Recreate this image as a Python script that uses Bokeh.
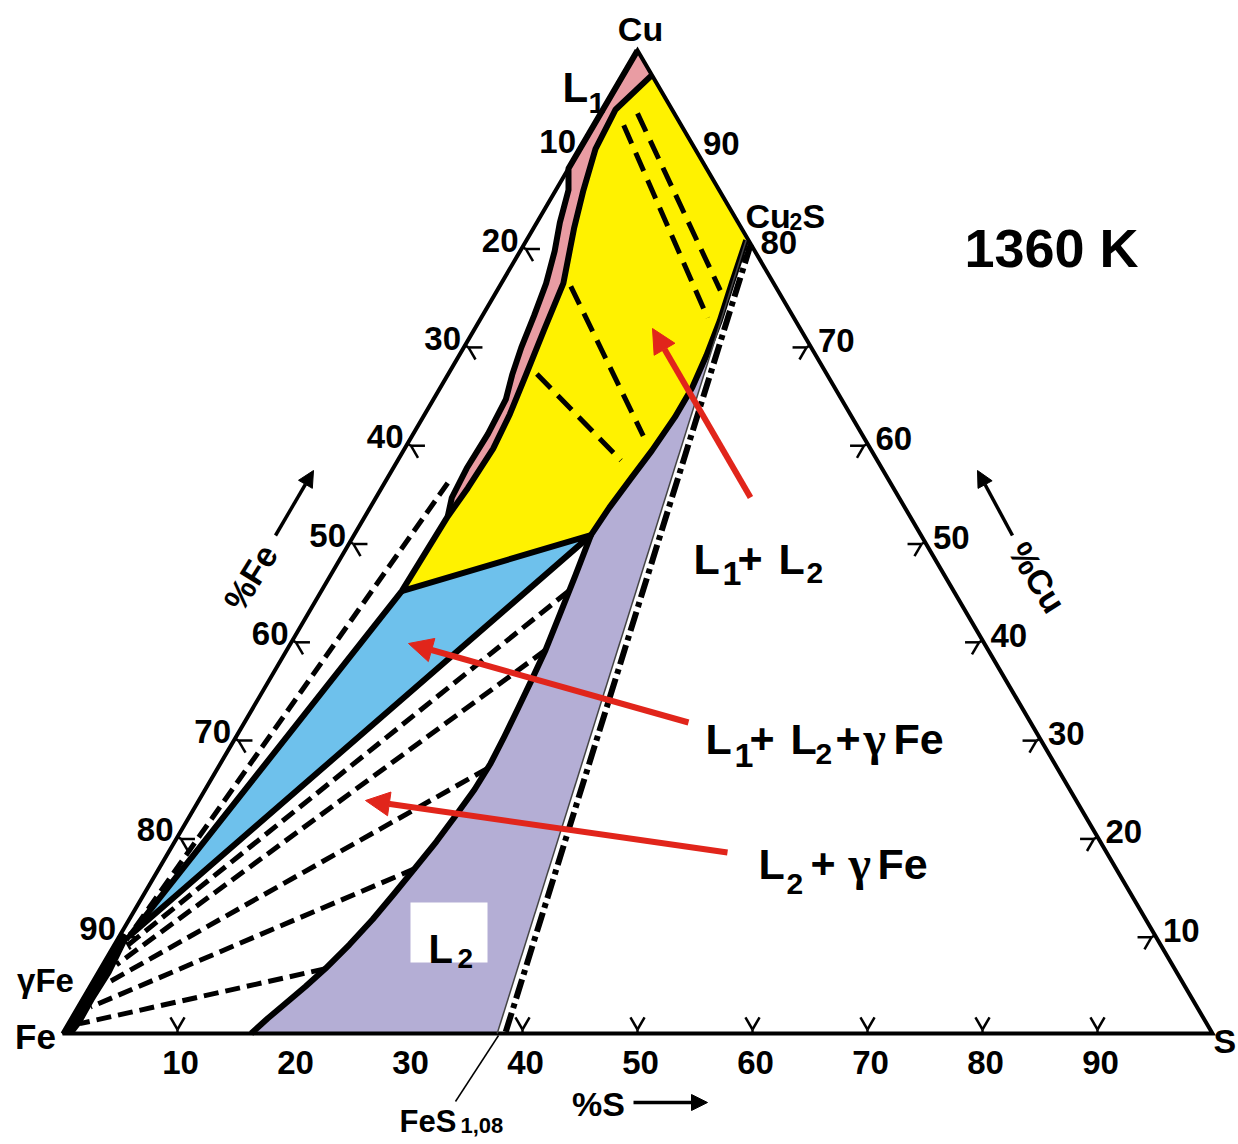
import numpy as np
from bokeh.plotting import figure
from bokeh.models import Range1d, Arrow, NormalHead
from bokeh.core.properties import value
from bokeh.embed import file_html
from bokeh.resources import INLINE

# ---------------- data: compositions in wt.% (S, Cu); Fe = 100 - S - Cu ----------------
ticks = [10, 20, 30, 40, 50, 60, 70, 80, 90]
tick_labels = ["10", "20", "30", "40", "50", "60", "70", "80", "90"]

cu2s = [19.1, 80.7]
l1_top = [2.5, 97.5]
l1_corner = [7.0, 45.0]
l2_corner = [20.6, 50.7]
gfe_corner = [0.9, 10.0]
blue_tip = [1.3, 10.5]
fes_bottom_S = 37.8
pseudo_S = [19.7, 38.5]
pseudo_Cu = [80.3, 0.0]

pink_left_S = [0.0, 0.0, 1.1, 2.0, 3.0, 3.9, 4.5, 5.0, 5.6, 6.3, 6.5, 6.4, 6.6, 7.2]
pink_left_Cu = [100.0, 88.0, 85.8, 82.5, 79.6, 76.3, 73.0, 69.8, 67.0, 64.5, 61.0, 57.5, 54.5, 52.6]
pink_right_S = [2.5, 1.1, 1.35, 2.4, 3.5, 4.3, 5.4, 6.1, 6.8, 7.4, 7.7, 7.5, 7.2]
pink_right_Cu = [97.5, 94.0, 90.0, 85.8, 82.0, 79.6, 76.3, 71.5, 67.0, 63.0, 59.5, 55.5, 52.6]

l2_upper_S = [19.1, 20.0, 20.9, 21.5, 21.9, 21.9, 21.6, 21.2, 20.8, 20.6]
l2_upper_Cu = [80.7, 76.5, 72.5, 69.0, 65.7, 62.7, 59.3, 56.5, 53.5, 50.7]
l2_lower_S = [20.6, 21.3, 21.9, 22.5, 22.8, 23.07, 23.32, 23.49, 23.42, 23.12, 22.75,
              22.26, 21.71, 21.16, 20.43, 19.56, 18.74, 17.86, 17.07, 16.4]
l2_lower_Cu = [50.7, 46.6, 42.8, 39.0, 36.1, 33.16, 30.21, 27.47, 24.82, 22.28, 19.53,
               16.89, 14.14, 11.6, 9.05, 6.61, 4.78, 3.05, 1.53, 0.0]

gfe_S = [0.0, 0.9, 1.05, 1.0, 1.1, 0.8, 0.0]
gfe_Cu = [0.0, 0.0, 1.0, 3.4, 6.1, 9.8, 10.2]

# tie lines (start S, start Cu, end S, end Cu)
tie_l1l2_S1 = [2.6, 3.2, 6.2, 7.7]
tie_l1l2_Cu1 = [92.4, 93.6, 76.0, 67.1]
tie_l1l2_S2 = [19.7, 19.4, 20.1, 19.4]
tie_l1l2_Cu2 = [72.8, 75.6, 60.8, 58.3]

tie_l2g_S1 = [21.5, 22.5, 23.5, 22.3, 19.6]
tie_l2g_Cu1 = [45.0, 39.0, 27.0, 16.8, 6.6]
tie_l2g_S2 = [1.2, 1.2, 1.2, 1.1, 1.0]
tie_l2g_Cu2 = [9.0, 7.0, 5.0, 2.7, 1.0]

tie_l1g_S = [5.5, 0.8]
tie_l1g_Cu = [56.0, 9.5]

# ---------------- styling ----------------
PINK = "#e99ca3"
YELLOW = "#fff200"
BLUE = "#6ec1ec"
PURPLE = "#b4aed5"
RED = "#e1251b"
FONT = "Liberation Sans"

SIDE, HGT = 1150.0, 983.0


def tern(S, Cu):
    S = np.asarray(S, float)
    Cu = np.asarray(Cu, float)
    return (SIDE * (S + Cu / 2.0) / 100.0).tolist(), (HGT * Cu / 100.0).tolist()


p = figure(width=1236, height=1142, x_range=Range1d(-62, 1174), y_range=Range1d(-109, 1033),
           output_backend="svg", toolbar_location=None, x_axis_location=None,
           y_axis_location=None, min_border=0)
p.outline_line_color = None
p.grid.visible = False
p.background_fill_color = "white"

# ---------------- ticks ----------------
ev = np.array([575.0, 983.0]) / np.hypot(575.0, 983.0)  # direction of Fe->Cu edge
t = np.array(ticks, float)
tick_xs, tick_ys = [], []


def add_ticks(Ss, Cus, n, a1, a2):
    xs, ys = tern(Ss, Cus)
    for x0, y0 in zip(xs, ys):
        T = np.array([x0, y0])
        V = T + 4 * n
        for A, B in ((T, V), (V, V + 14 * a1), (V, V + 14 * a2)):
            tick_xs.append([A[0], B[0]])
            tick_ys.append([A[1], B[1]])


add_ticks(t, np.zeros_like(t), np.array([0.0, 1.0]), np.array([ev[0], ev[1]]), np.array([-ev[0], ev[1]]))
add_ticks(np.zeros_like(t), 100 - t, np.array([ev[1], -ev[0]]), np.array([1.0, 0.0]), np.array([ev[0], -ev[1]]))
add_ticks(100 - t, t, np.array([-ev[1], -ev[0]]), np.array([-1.0, 0.0]), np.array([-ev[0], -ev[1]]))
p.multi_line(tick_xs, tick_ys, line_color="black", line_width=2.5)

# ---------------- phase fields ----------------
x, y = tern(pink_left_S + pink_right_S[::-1], pink_left_Cu + pink_right_Cu[::-1])
p.patch(x, y, fill_color=PINK, line_color=None)

x, y = tern(l2_upper_S + [l1_corner[0]] + pink_right_S[::-1],
            l2_upper_Cu + [l1_corner[1]] + pink_right_Cu[::-1])
p.patch(x, y, fill_color=YELLOW, line_color=None)

x, y = tern([l1_corner[0], l2_corner[0], blue_tip[0]], [l1_corner[1], l2_corner[1], blue_tip[1]])
p.patch(x, y, fill_color=BLUE, line_color=None)

x, y = tern(l2_upper_S + l2_lower_S[1:] + [fes_bottom_S], l2_upper_Cu + l2_lower_Cu[1:] + [0.0])
p.patch(x, y, fill_color=PURPLE, line_color=None)

x, y = tern(gfe_S, gfe_Cu)
p.patch(x, y, fill_color="black", line_color="black", line_width=2)

# triangle
x, y = tern([0, 100, 0, 0], [0, 0, 100, 0])
p.line(x, y, line_color="black", line_width=4, line_join="miter")

# ---------------- phase boundaries ----------------
x, y = tern(pink_left_S, pink_left_Cu)
p.line(x, y, line_color="black", line_width=6, line_join="round")
x, y = tern(pink_right_S + [l1_corner[0], gfe_corner[0]], pink_right_Cu + [l1_corner[1], gfe_corner[1]])
p.line(x, y, line_color="black", line_width=6, line_join="round")
x, y = tern([l1_corner[0], l2_corner[0], gfe_corner[0]], [l1_corner[1], l2_corner[1], gfe_corner[1]])
p.line(x, y, line_color="black", line_width=6, line_join="round")
x, y = tern(l2_upper_S + l2_lower_S[1:], l2_upper_Cu + l2_lower_Cu[1:])
p.line(x, y, line_color="black", line_width=6, line_join="round")
x, y = tern([cu2s[0], fes_bottom_S], [cu2s[1], 0.0])
p.line(x, y, line_color="#444444", line_width=1.5)
x, y = tern(pseudo_S, pseudo_Cu)
p.line(x, y, line_color="black", line_width=6, line_dash="20 5 5 5")

# tie lines
for S1, C1, S2, C2 in zip(tie_l1l2_S1, tie_l1l2_Cu1, tie_l1l2_S2, tie_l1l2_Cu2):
    x, y = tern([S1, S2], [C1, C2])
    p.line(x, y, line_color="black", line_width=5, line_dash="20 10")
for S1, C1, S2, C2 in zip(tie_l2g_S1, tie_l2g_Cu1, tie_l2g_S2, tie_l2g_Cu2):
    x, y = tern([S1, S2], [C1, C2])
    p.line(x, y, line_color="black", line_width=5, line_dash="15 7")
x, y = tern(tie_l1g_S, tie_l1g_Cu)
p.line(x, y, line_color="black", line_width=5, line_dash="15 7")

# ---------------- tick labels ----------------
x, y = tern(np.zeros_like(t), 100 - t)
p.text(x, y, text=tick_labels, text_font=value(FONT), text_font_size="33px", text_font_style="bold",
       text_align="right", text_baseline="middle", x_offset=-4, y_offset=-7)
x, y = tern(100 - t, t)
p.text(x, y, text=tick_labels, text_font=value(FONT), text_font_size="33px", text_font_style="bold",
       text_align="left", text_baseline="middle", x_offset=8, y_offset=-5)
x, y = tern(t, np.zeros_like(t))
p.text(x, y, text=tick_labels, text_font=value(FONT), text_font_size="33px", text_font_style="bold",
       text_align="center", text_baseline="middle", x_offset=3, y_offset=29)


def txt(x, y, s, size, bold=True, font=FONT, align="left", baseline="alphabetic", angle=0.0):
    p.text([x], [y], text=[s], text_font=value(font), text_font_size=f"{size}px",
           text_font_style="bold" if bold else "normal", text_align=align,
           text_baseline=baseline, angle=angle, text_color="black")


# corner and axis labels
txt(578, 1005, "Cu", 34, align="center", baseline="middle")
txt(-27, -3, "Fe", 35, align="center", baseline="middle")
txt(1151, -7, "S", 34, baseline="middle")
txt(-17, 53, "γFe", 33, align="center", baseline="middle")
txt(683, 818, "Cu", 34)
txt(727, 812, "2", 23)
txt(740, 818, "S", 34)
txt(989, 786, "1360 K", 54, align="center", baseline="middle")
txt(188, 456, "%Fe", 34, align="center", baseline="middle", angle=np.radians(58))
txt(975, 456, "%Cu", 34, align="center", baseline="middle", angle=np.radians(-58))
txt(536, -70, "%S", 34, align="center", baseline="middle")
txt(337, -88, "FeS", 31, baseline="middle")
txt(398, -92, "1,08", 22, baseline="middle")
p.line([393, 436], [-68, -2], line_color="black", line_width=1.5)

# L1 at top
txt(500, 946, "L", 42)
txt(526, 931, "1", 30)

# L1 + L2
txt(631, 475, "L", 43)
txt(660, 460, "1", 34)
txt(675, 475, "+", 43)
txt(716, 475, "L", 43)
txt(744, 461, "2", 30)

# L1 + L2 + gFe
txt(643, 295, "L", 43)
txt(672, 278, "1", 34)
txt(687, 295, "+", 43)
txt(728, 295, "L", 43)
txt(753, 280, "2", 30)
txt(773, 295, "+", 43)
txt(801, 295, "γ", 48, bold=True, font="Liberation Serif")
txt(831, 295, "Fe", 43)

# L2 + gFe
txt(696, 170, "L", 43)
txt(724, 150, "2", 30)
txt(748, 170, "+", 43)
txt(786, 170, "γ", 48, bold=True, font="Liberation Serif")
txt(815, 170, "Fe", 43)

# L2 box
p.rect([386.5], [101], width=77, height=60, fill_color="white", line_color=None)
txt(366, 85, "L", 40)
txt(395, 75, "2", 28)

# ---------------- arrows ----------------
for (xs_, ys_), (xe, ye) in [((688, 536), (590, 705)), ((626, 311), (346, 390)), ((665, 181), (303, 233))]:
    p.add_layout(Arrow(end=NormalHead(size=24, fill_color=RED, line_color=RED),
                       x_start=xs_, y_start=ys_, x_end=xe, y_end=ye,
                       line_color=RED, line_width=6))
for (xs_, ys_), (xe, ye) in [((213, 498), (251, 563)), ((950, 498), (915, 563)), ((571, -69), (645, -69))]:
    p.add_layout(Arrow(end=NormalHead(size=16, fill_color="black", line_color="black"),
                       x_start=xs_, y_start=ys_, x_end=xe, y_end=ye,
                       line_color="black", line_width=3.5))

open("out.html", "w").write(file_html(p, INLINE))
